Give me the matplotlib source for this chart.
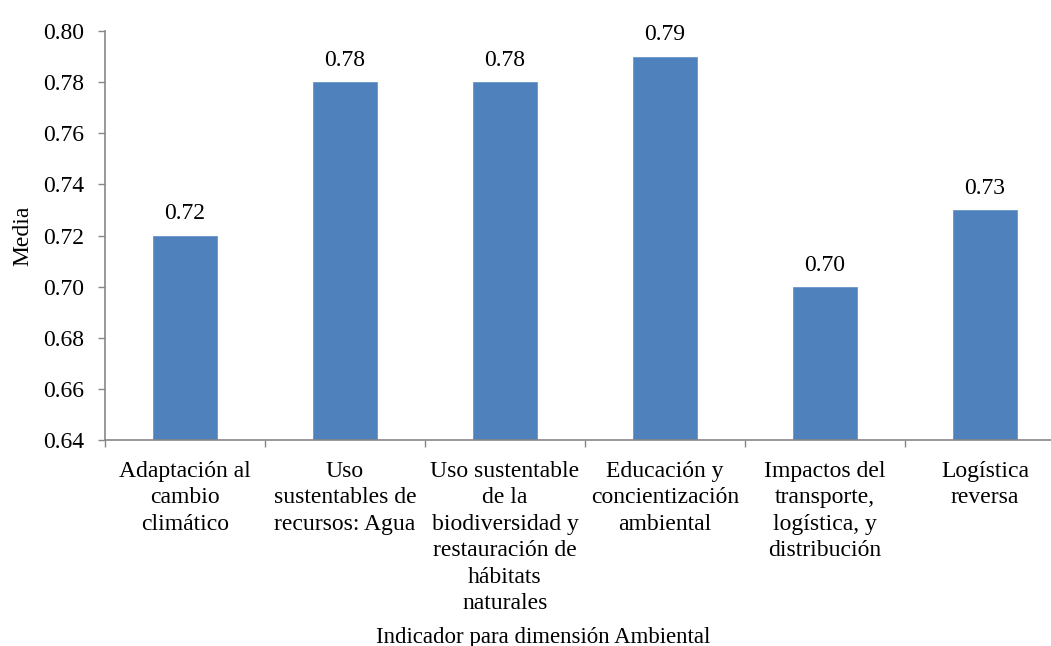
import numpy as np
import matplotlib.pyplot as plt

# datos del gráfico
categorias = ['Adaptación al\ncambio\nclimático',
              'Uso\nsustentables de\nrecursos: Agua',
              'Uso sustentable\nde la\nbiodiversidad y\nrestauración de\nhábitats\nnaturales',
              'Educación y\nconcientización\nambiental',
              'Impactos del\ntransporte,\nlogística, y\ndistribución',
              'Logística\nreversa']
medias = [0.72, 0.78, 0.78, 0.79, 0.70, 0.73]
y_ticks = [0.64, 0.66, 0.68, 0.70, 0.72, 0.74, 0.76, 0.78, 0.80]

fam = ['Liberation Serif', 'DejaVu Serif']
plt.rcParams['font.family'] = fam
fs = 17

fig = plt.figure(figsize=(10.51, 6.46), dpi=100)
# el eje se sale por la derecha como en la imagen original
W, H = 1051, 646
ax = fig.add_axes([105 / W, 1 - 440 / H, 960 / W, (440 - 31) / H])

x = np.arange(len(medias))
ax.bar(x, medias, width=0.4, color='#4F81BD', edgecolor='#6A95CC', linewidth=0.6, zorder=2)
ax.set_ylim(0.64, 0.80)
ax.set_xlim(-0.5, len(medias) - 0.5)
ax.set_yticks(y_ticks)
ax.set_yticklabels(['%.2f' % v for v in y_ticks], fontsize=fs, family=fam)
ax.set_xticks(x)
ax.set_xticklabels(categorias, fontsize=fs, family=fam, linespacing=1.34)
ax.set_xticks(np.arange(-0.5, len(medias)), minor=True)
ax.tick_params(axis='x', which='major', length=0, pad=15)
ax.tick_params(axis='x', which='minor', length=5, color='#868686', width=1)
ax.tick_params(axis='y', length=5, color='#868686', width=1, pad=10)

for s in ['top', 'right']:
    ax.spines[s].set_visible(False)
for s in ['left', 'bottom']:
    ax.spines[s].set_color('#868686')
    ax.spines[s].set_linewidth(1.2)
    ax.spines[s].set_clip_on(False)

# etiquetas de valor
for xi, v in zip(x, medias):
    ax.annotate('%.2f' % v, (xi, v), xytext=(0, 8), textcoords='offset points',
                ha='center', va='bottom', fontsize=fs, family=fam)

ax.set_ylabel('Media', fontsize=fs, family=fam, labelpad=7)
fig.text(543 / W, 1 - 643 / H, 'Indicador para dimensión Ambiental', ha='center', va='baseline',
         fontsize=16.5, family=fam)

fig.savefig('out.png', dpi=100)
